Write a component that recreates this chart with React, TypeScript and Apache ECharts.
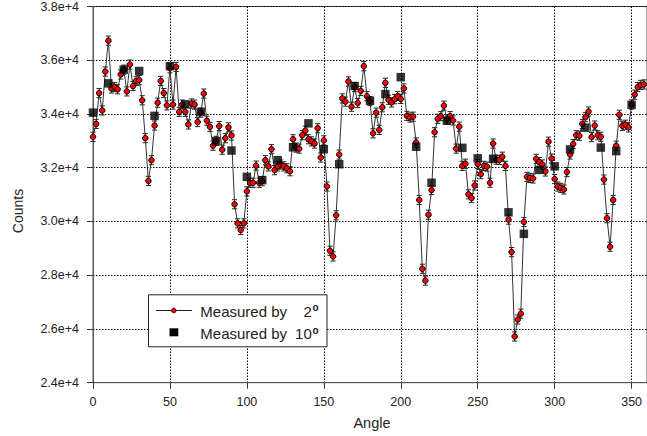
import React, { useEffect, useRef } from "react";
import * as echarts from "echarts";

// Measurements taken every 2 degrees
const ANGLES_2 = [
  0, 2, 4, 6, 8, 10, 12, 14, 16, 18, 20, 22, 24, 26, 28, 30, 32, 34, 36, 38,
  40, 42, 44, 46, 48, 50, 52, 54, 56, 58, 60, 62, 64, 66, 68, 70, 72, 74, 76, 78,
  80, 82, 84, 86, 88, 90, 92, 94, 96, 98, 100, 102, 104, 106, 108, 110, 112, 114, 116, 118,
  120, 122, 124, 126, 128, 130, 132, 134, 136, 138, 140, 142, 144, 146, 148, 150, 152, 154, 156, 158,
  160, 162, 164, 166, 168, 170, 172, 174, 176, 178, 180, 182, 184, 186, 188, 190, 192, 194, 196, 198,
  200, 202, 204, 206, 208, 210, 212, 214, 216, 218, 220, 222, 224, 226, 228, 230, 232, 234, 236, 238,
  240, 242, 244, 246, 248, 250, 252, 254, 256, 258, 260, 262, 264, 266, 268, 270, 272, 274, 276, 278,
  280, 282, 284, 286, 288, 290, 292, 294, 296, 298, 300, 302, 304, 306, 308, 310, 312, 314, 316, 318,
  320, 322, 324, 326, 328, 330, 332, 334, 336, 338, 340, 342, 344, 346, 348, 350, 352, 354, 356, 358,
];
const COUNTS_2 = [
  33150, 33630, 34780, 34130, 35580, 36730, 34950, 35000, 34920, 35470,
  35650, 34840, 35840, 35040, 35230, 35260, 34510, 33100, 31510, 32280,
  33570, 34420, 35230, 34780, 34320, 35700, 34350, 35750, 34080, 34350,
  34080, 33610, 34390, 34350, 33700, 34050, 34760, 33750, 33520, 32820,
  33000, 33550, 32670, 33100, 33500, 33200, 30640, 29930, 29680, 29930,
  31120, 31440, 31440, 32080, 31440, 31500, 32280, 32050, 32690, 31910,
  32050, 32120, 32050, 31980, 31870, 33060, 32750, 32710, 33210, 33380,
  33060, 32980, 32900, 33470, 32380, 33020, 31300, 28910, 28700, 30230,
  32490, 34580, 34460, 35210, 34270, 35000, 34410, 34860, 35780, 34660,
  34480, 33280, 34050, 33410, 34250, 35160, 34530, 34430, 34550, 34670,
  34560, 34950, 33930, 33870, 33900, 32940, 30800, 28240, 27800, 30250,
  31170, 33320, 33820, 33920, 34310, 33800, 33920, 33760, 32710, 33530,
  32070, 32150, 31010, 30870, 31340, 32140, 31760, 32070, 32040, 31440,
  32900, 32300, 32290, 32410, 32070, 30070, 28860, 25720, 26350, 26570,
  29980, 31660, 31620, 31600, 32330, 32210, 32120, 31860, 32970, 32340,
  31580, 31300, 31250, 31190, 31840, 32490, 32880, 33210, 33190, 33630,
  33880, 34090, 33140, 33570, 33210, 33150, 31560, 30120, 29060, 30800,
  32820, 33970, 33560, 33600, 33500, 34350, 34720, 35000, 35080, 35100,
];
// Half-width of the error bars (counts)
const ERROR_2 = 170;

// Measurements taken every 10 degrees
const ANGLES_10 = [
  0, 10, 20, 30, 40, 50, 60, 70, 80, 90, 100, 110, 120, 130, 140, 150, 160, 170,
  180, 190, 200, 210, 220, 230, 240, 250, 260, 270, 280, 290, 300, 310, 320, 330, 340, 350,
];
const COUNTS_10 = [
  34050, 35140, 35650, 35600, 33930, 35780, 34360, 34080, 32990, 32640, 31660, 31540,
  32280, 32760, 33650, 32690, 32130, 35040, 34490, 34740, 35370, 32780, 31440, 33750,
  32740, 32350, 32330, 30340, 29540, 31920, 32050, 32680, 33490, 32750, 32620, 34340,
];

const X_MIN = 0;
const X_MAX = 360;
const X_STEP = 50;
const Y_MIN = 24000;
const Y_MAX = 38000;
const Y_STEP = 2000;

const LEGEND_LABELS = ["Measured by", "Measured by"];
const LEGEND_NUMBERS = ["2", "10"];
const X_NAME = "Angle";
const Y_NAME = "Counts";

const FONT = "'Liberation Sans', Arial, sans-serif";
const LZ = 100;

export default function App() {
  const ref = useRef<HTMLDivElement>(null);

  useEffect(() => {
    if (!ref.current) return;
    const chart = echarts.init(ref.current, undefined, { renderer: "svg" });

    const errData = ANGLES_2.map((a, i) => [a, COUNTS_2[i], ERROR_2]);
    const lineData = ANGLES_2.map((a, i) => [a, COUNTS_2[i]]);
    const sqData = ANGLES_10.map((a, i) => [a, COUNTS_10[i]]);

    const gridLine = { color: "#000", width: 1, type: [1.5, 1.5] as any };

    chart.setOption({
      animation: false,
      backgroundColor: "#fff",
      grid: {
        left: 93,
        top: 4.3,
        right: -5.5,
        bottom: 53.3,
        show: true,
        borderColor: "#555",
        borderWidth: 1,
        backgroundColor: "transparent",
      },
      xAxis: {
        type: "value",
        min: X_MIN,
        max: X_MAX,
        interval: X_STEP,
        axisLine: { show: true, lineStyle: { color: "#555", width: 1 } },
        axisTick: { show: true, length: 6, lineStyle: { color: "#333" } },
        axisLabel: {
          color: "#222",
          fontSize: 12.5,
          fontFamily: FONT,
          margin: 13,
          showMaxLabel: false,
        },
        splitLine: { show: true, lineStyle: gridLine },
      },
      yAxis: {
        type: "value",
        min: Y_MIN,
        max: Y_MAX,
        interval: Y_STEP,
        axisLine: { show: true, lineStyle: { color: "#555", width: 1 } },
        axisTick: { show: true, length: 6, lineStyle: { color: "#333" } },
        axisLabel: {
          color: "#222",
          fontSize: 12.5,
          fontFamily: FONT,
          margin: 14,
          formatter: (v: number) => (v / 10000).toFixed(1) + "e+4",
        },
        splitLine: { show: true, lineStyle: gridLine },
      },
      series: [
        {
          type: "custom",
          z: 2,
          data: errData,
          encode: { x: 0, y: 1 },
          renderItem: (params: any, api: any) => {
            const x = api.value(0);
            const y = api.value(1);
            const e = api.value(2);
            const top = api.coord([x, y + e]);
            const bot = api.coord([x, y - e]);
            const hw = 2.6;
            const st = { stroke: "#222", lineWidth: 1 };
            return {
              type: "group",
              children: [
                { type: "line", shape: { x1: top[0], y1: top[1], x2: bot[0], y2: bot[1] }, style: st },
                { type: "line", shape: { x1: top[0] - hw, y1: top[1], x2: top[0] + hw, y2: top[1] }, style: st },
                { type: "line", shape: { x1: bot[0] - hw, y1: bot[1], x2: bot[0] + hw, y2: bot[1] }, style: st },
              ],
            };
          },
        },
        {
          type: "line",
          z: 3,
          data: lineData,
          symbol: "circle",
          symbolSize: 5.5,
          showAllSymbol: true,
          itemStyle: { color: "#ff0000", borderColor: "#000", borderWidth: 1 },
          lineStyle: { color: "#333", width: 1 },
        },
        {
          type: "scatter",
          z: 4,
          data: sqData,
          symbol: "rect",
          symbolSize: 8.5,
          itemStyle: { color: "#000" },
        },
      ],
      graphic: [
        {
          type: "text",
          x: 18,
          y: 211,
          rotation: Math.PI / 2,
          style: {
            text: Y_NAME,
            fontSize: 14,
            fontFamily: FONT,
            fill: "#222",
            textAlign: "center",
            textVerticalAlign: "middle",
          },
        },
        {
          type: "text",
          x: 372,
          y: 423,
          style: {
            text: X_NAME,
            fontSize: 14.5,
            fontFamily: FONT,
            fill: "#222",
            textAlign: "center",
            textVerticalAlign: "middle",
          },
        },
        {
          type: "rect",
          z: LZ,
          zlevel: 1,
          shape: { x: 148.5, y: 294.8, width: 178.5, height: 52 },
          style: { fill: "#fff", stroke: "#222", lineWidth: 1 },
        },
        {
          type: "line",
          z: LZ + 1,
          zlevel: 1,
          shape: { x1: 156, y1: 310.5, x2: 192, y2: 310.5 },
          style: { stroke: "#222", lineWidth: 1 },
        },
        {
          type: "circle",
          z: LZ + 2,
          zlevel: 1,
          shape: { cx: 173.8, cy: 310.5, r: 2.3 },
          style: { fill: "#ff0000", stroke: "#000", lineWidth: 0.8 },
        },
        {
          type: "rect",
          z: LZ + 2,
          zlevel: 1,
          shape: { x: 169.5, y: 328.3, width: 8.8, height: 8 },
          style: { fill: "#000" },
        },
        ...LEGEND_LABELS.map((t, i) => ({
          type: "text",
          z: LZ + 2,
          zlevel: 1,
          x: 200.3,
          y: i === 0 ? 311 : 333.5,
          style: {
            text: t,
            fontSize: 15,
            fontFamily: FONT,
            fill: "#222",
            textAlign: "left",
            textVerticalAlign: "middle",
          },
        })),
        ...LEGEND_NUMBERS.map((t, i) => ({
          type: "text",
          z: LZ + 2,
          zlevel: 1,
          x: 311.8,
          y: i === 0 ? 311 : 333.5,
          style: {
            text: t,
            fontSize: 15,
            fontFamily: FONT,
            fill: "#222",
            textAlign: "right",
            textVerticalAlign: "middle",
          },
        })),
        ...LEGEND_NUMBERS.map((_t, i) => ({
          type: "text",
          z: LZ + 2,
          zlevel: 1,
          x: 312.5,
          y: i === 0 ? 307.5 : 330.5,
          style: {
            text: "o",
            fontSize: 10,
            fontWeight: "bold",
            fontFamily: FONT,
            fill: "#222",
            textAlign: "left",
            textVerticalAlign: "middle",
          },
        })),
      ],
    });

    return () => chart.dispose();
  }, []);

  return (
    <div
      ref={ref}
      style={{ position: "fixed", left: 0, top: 0, width: 647, height: 436, background: "#fff" }}
    />
  );
}
